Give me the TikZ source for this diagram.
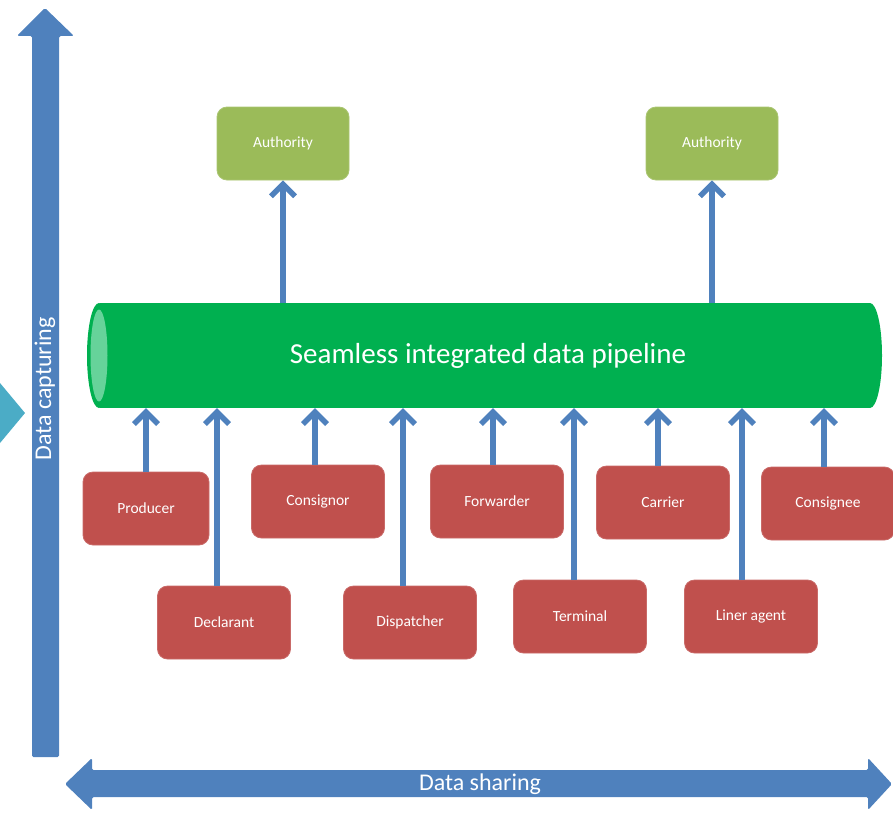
\documentclass[tikz,border=0pt]{standalone}
\usepackage{fontspec}
\setmainfont{Carlito}
\usetikzlibrary{arrows.meta}
\definecolor{axisblue}{HTML}{4F81BD}
\definecolor{pipegreen}{HTML}{00B050}
\definecolor{pipelight}{HTML}{66D39A}
\definecolor{authgreen}{HTML}{9BBB59}
\definecolor{actorred}{HTML}{C0504D}
\definecolor{cuecyan}{HTML}{4BACC6}
\begin{document}
\begin{tikzpicture}[x=1pt,y=-1pt,
  actor/.style={rectangle, rounded corners=10pt, fill=actorred, draw=actorred!85!white,
    line width=0.8pt, minimum width=133pt, minimum height=73pt, text=white,
    font=\fontsize{15.5}{18}\selectfont},
  authority/.style={rectangle, rounded corners=10pt, fill=authgreen, draw=authgreen!85!white,
    line width=0.8pt, minimum width=132pt, minimum height=73pt, text=white,
    font=\fontsize{15.5}{18}\selectfont},
  flow/.style={draw=axisblue, line width=5.5pt,
    -{Straight Barb[length=12pt,width=24pt]}},
  bigarrow/.style={fill=axisblue, rounded corners=1.5pt},
  axislabel/.style={text=white, font=\fontsize{24}{28}\selectfont}]
\useasboundingbox (0,0) rectangle (893,816);

% side cue
\fill[cuecyan] (0,383) -- (25,413) -- (0,443) -- cycle;

% axes
\fill[bigarrow] (32,757) -- (32,36) -- (17,36) -- (45,8) -- (74,36) -- (59,36) -- (59,757) -- cycle;
\fill[bigarrow] (65,784) -- (92,758) -- (92,770) -- (868,770) -- (868,758) -- (892,784)
  -- (868,810) -- (868,797) -- (92,797) -- (92,810) -- cycle;
\node[axislabel, rotate=90] (capture) at (45,389) {Data capturing};
\node[axislabel] (sharing) at (480,784) {Data sharing};

% pipeline
\fill[pipegreen] (100,303) rectangle (870,408);
\fill[pipegreen] (870,355.5) ellipse [x radius=12, y radius=52.5];
\fill[pipegreen] (99,355.5) ellipse [x radius=12, y radius=52.5];
\fill[pipelight] (99,355.5) ellipse [x radius=8.5, y radius=46];
\node[minimum width=770pt, minimum height=105pt, text=white,
  font=\fontsize{29}{34}\selectfont] (pipe) at (488,355.5) {Seamless integrated data pipeline};

% authorities
\node[authority] (auth1) at (283,143.5) {Authority};
\node[authority] (auth2) at (712,143.5) {Authority};

% actors
\node[actor, minimum width=126pt] (producer) at (146,508.5) {Producer};
\node[actor] (consignor) at (318,501.5) {Consignor};
\node[actor] (forwarder) at (497,501.5) {Forwarder};
\node[actor] (carrier) at (663,502.5) {Carrier};
\node[actor] (consignee) at (828,503.5) {Consignee};
\node[actor] (declarant) at (224,622.5) {Declarant};
\node[actor] (dispatcher) at (410,622.5) {Dispatcher};
\node[actor] (terminal) at (580,616.5) {Terminal};
\node[actor] (liner) at (751,616.5) {Liner agent};

% data flows
\draw[flow] (auth1.south |- pipe.north) -- (auth1.south);
\draw[flow] (auth2.south |- pipe.north) -- (auth2.south);
\draw[flow] (producer.north) -- (producer.north |- pipe.south);
\draw[flow] ([xshift=-7pt]declarant.north) -- ([xshift=-7pt]declarant.north |- pipe.south);
\draw[flow] ([xshift=-3pt]consignor.north) -- ([xshift=-3pt]consignor.north |- pipe.south);
\draw[flow] ([xshift=-7pt]dispatcher.north) -- ([xshift=-7pt]dispatcher.north |- pipe.south);
\draw[flow] ([xshift=-4pt]forwarder.north) -- ([xshift=-4pt]forwarder.north |- pipe.south);
\draw[flow] ([xshift=-6pt]terminal.north) -- ([xshift=-6pt]terminal.north |- pipe.south);
\draw[flow] ([xshift=-5pt]carrier.north) -- ([xshift=-5pt]carrier.north |- pipe.south);
\draw[flow] ([xshift=-9pt]liner.north) -- ([xshift=-9pt]liner.north |- pipe.south);
\draw[flow] ([xshift=-4pt]consignee.north) -- ([xshift=-4pt]consignee.north |- pipe.south);
\end{tikzpicture}
\end{document}
